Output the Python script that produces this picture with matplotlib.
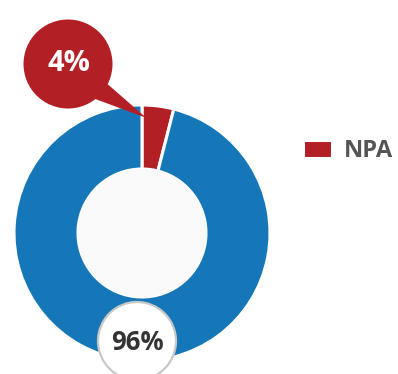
import matplotlib
matplotlib.use("Agg")
import matplotlib.pyplot as plt
from matplotlib.patches import Circle, Polygon
import numpy as np

plt.rcParams['font.family'] = ['Open Sans', 'DejaVu Sans']

labels = ['NPA', 'Other']
values = [4, 96]
colors = ['#b21f24', '#1677b8']

fig = plt.figure(figsize=(3.98, 3.74), dpi=100)
ax = fig.add_axes([0, 0, 1, 1])

cx, cy, r_out, r_in = 142, 141, 128, 64

wedges, _ = ax.pie(values, colors=colors, startangle=90, counterclock=False,
                   center=(cx, cy), radius=r_out, frame=True,
                   wedgeprops=dict(width=r_out - r_in, edgecolor='white', linewidth=2.2))
ax.set_xlim(0, 398)
ax.set_ylim(0, 374)
ax.set_aspect('equal')
ax.axis('off')

# light hole in the middle
ax.add_patch(Circle((cx, cy), r_in, facecolor='#fafafa', edgecolor='none', zorder=3))

# callout bubble for the small slice
bx, by, br = 68, 310, 44.5
start = np.deg2rad(90 - 360 * values[0] / 100 * 0.15)
tip = (cx + np.cos(start) * r_out * 0.9, cy + np.sin(start) * r_out * 0.9)
a1, a2 = np.deg2rad(-27), np.deg2rad(-52)
tail = [(bx + br * np.cos(a1), by + br * np.sin(a1)), tip,
        (bx + br * np.cos(a2), by + br * np.sin(a2)), (bx, by)]
ax.add_patch(Polygon(tail, closed=True, facecolor=colors[0], edgecolor='none', zorder=4))
ax.add_patch(Circle((bx, by), br, facecolor=colors[0], edgecolor='none', zorder=4))
ax.text(bx + 1, by + 1, f'{values[0]}%', color='white', fontsize=21, fontweight='bold',
        ha='center', va='center', zorder=5)

# label bubble for the large slice
ax.add_patch(Circle((137, 33), 39, facecolor='white', edgecolor='#c8c8c8', linewidth=1.6, zorder=4))
ax.text(137, 32, f'{values[1]}%', color='#333333', fontsize=18.5, fontweight='bold',
        ha='center', va='center', zorder=5)

leg = ax.legend([wedges[0]], [labels[0]], loc='center left', bbox_to_anchor=(0.762, 0.596),
                frameon=False, borderpad=0, borderaxespad=0, handlelength=1.2, handleheight=0.85,
                handletextpad=0.5, prop=dict(size=17, weight='bold'))
for t in leg.get_texts():
    t.set_color('#555555')

fig.savefig('out.png', dpi=100, facecolor='white')
